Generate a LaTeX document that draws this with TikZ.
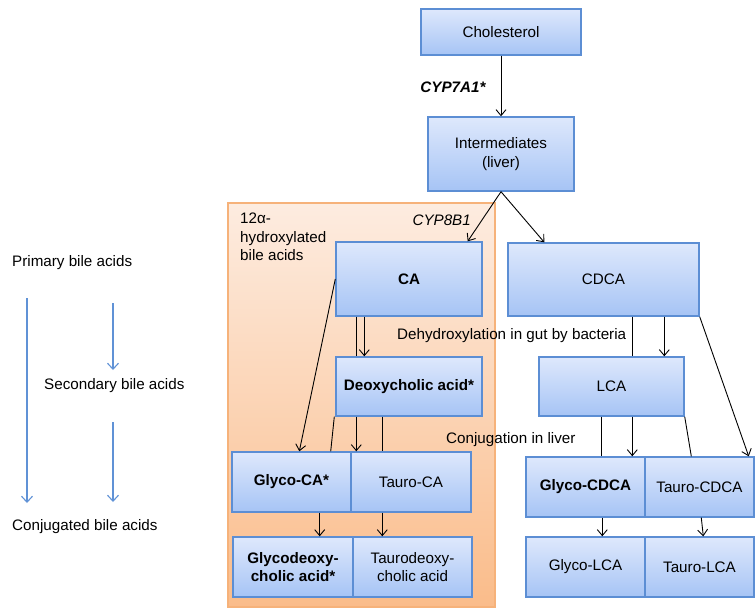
\documentclass[tikz,border=0pt]{standalone}
\usepackage{fontspec}
\setmainfont{Liberation Sans}
\usepackage{tikz}
\usetikzlibrary{arrows.meta,calc}
\definecolor{boxtop}{RGB}{222,232,252}
\definecolor{boxbot}{RGB}{166,196,245}
\definecolor{boxline}{RGB}{92,142,212}
\definecolor{regtop}{RGB}{253,236,224}
\definecolor{regbot}{RGB}{250,188,138}
\definecolor{regline}{RGB}{246,178,122}
\definecolor{flowblue}{RGB}{96,146,214}

\begin{document}
\begin{tikzpicture}[x=1pt, y=-1pt, font=\fontsize{15.2}{18.5}\selectfont,
    acid/.style 2 args={draw=boxline, line width=1.4pt, top color=boxtop, bottom color=boxbot,
      minimum width=#1, minimum height=#2, inner sep=0pt, align=center},
    conv/.style={line width=0.9pt, -{Straight Barb[length=6pt, width=10pt]}},
    link/.style={line width=0.9pt},
    class/.style={flowblue, line width=1.1pt, -{Straight Barb[length=6pt, width=11pt]}}]
    \useasboundingbox (0,0) rectangle (755,608);

    % 12alpha-hydroxylated region
    \draw[regline, line width=1.2pt, top color=regtop, bottom color=regbot] (228,203) rectangle (495,607);
    \node[anchor=west, align=left, inner sep=0pt] (hydr) at (240,237) {12α-\\hydroxylated\\bile acids};

    \node[acid={160pt}{46pt}] (chol) at (501,32) {Cholesterol};
    \node[acid={146pt}{74pt}] (inter) at (501,154) {Intermediates\\(liver)};
    \node[acid={146pt}{74pt}] (ca) at (409,279) {\bfseries CA};
    \node[acid={191pt}{73pt}] (cdca) at (603.5,279.5) {CDCA};
    \node[acid={146pt}{59pt}] (dca) at (409,386.5) {\bfseries Deoxycholic acid*};
    \node[acid={145pt}{59pt}] (lca) at (611.5,386.5) {LCA};
    \node[acid={119pt}{60pt}] (gca) at (291.5,482) {\bfseries Glyco-CA*};
    \node[acid={120pt}{60pt}] (tca) at (411,482) {Tauro-CA};
    \node[acid={120pt}{60pt}] (gdca) at (293,567) {\bfseries Glycodeoxy-\\\bfseries cholic acid*};
    \node[acid={119pt}{60pt}] (tdca) at (412.5,567) {Taurodeoxy-\\cholic acid};
    \node[acid={119pt}{60pt}] (gcdca) at (585.5,487) {\bfseries Glyco-CDCA};
    \node[acid={109pt}{60pt}] (tcdca) at (699.5,487) {Tauro-CDCA};
    \node[acid={119pt}{60pt}] (glca) at (585.5,567) {Glyco-LCA};
    \node[acid={109pt}{60pt}] (tlca) at (699.5,567) {Tauro-LCA};

    \node[anchor=east, font=\fontsize{15.2}{18}\selectfont\bfseries\itshape] (cyp7) at (489,87) {CYP7A1*};
    \node[anchor=west, font=\fontsize{15.2}{18}\selectfont\itshape] (cyp8) at (409,220) {CYP8B1};
    \node[anchor=west, inner sep=0pt] (dehyd) at (397,336) {Dehydroxylation in gut by bacteria};
    \node[anchor=west, inner sep=0pt] (conj) at (446,440) {Conjugation in liver};

    % synthesis in liver
    \draw[conv] (chol) -- (inter);
    \draw[conv] (inter.south) -- ([xshift=-15pt]ca.north east);
    \draw[conv] (inter.south) -- ([xshift=37pt]cdca.north west);

    % CA branch
    \draw[link] ([xshift=21pt]ca.south west) -- ([xshift=21pt]dca.north west);
    \draw[conv] ([xshift=29pt]ca.south west) -- ([xshift=29pt]dca.north west);
    \draw[conv] (ca.west) -- ([xshift=68pt]gca.north west);
    \draw[link] ([xshift=-1pt]dca.south west) -- ([xshift=-21pt]gca.north east);
    \draw[conv] ([xshift=21pt]dca.south west) -- ([xshift=6pt]tca.north west);
    \draw[link] ([xshift=47pt]dca.south west) -- ([xshift=32pt]tca.north west);
    \draw[conv] ([xshift=-32pt]gca.south east) -- ([xshift=-34pt]gdca.north east);
    \draw[conv] ([xshift=32pt]tca.south west) -- ([xshift=30pt]tdca.north west);

    % CDCA branch
    \draw[link] ([xshift=125pt]cdca.south west) -- ([xshift=94pt]lca.north west);
    \draw[conv] ([xshift=157pt]cdca.south west) -- ([xshift=126pt]lca.north west);
    \draw[conv] (cdca.south east) -- ([xshift=-6pt]tcdca.north east);
    \draw[link] ([xshift=63pt]lca.south west) -- ([xshift=76pt]gcdca.north west);
    \draw[conv] ([xshift=94pt]lca.south west) -- ([xshift=107pt]gcdca.north west);
    \draw[link] (lca.south east) -- ([xshift=47pt]tcdca.north west);
    \draw[conv] ([xshift=77pt]gcdca.south west) -- ([xshift=77pt]glca.north west);
    \draw[conv] ([xshift=57pt]tcdca.south west) -- ([xshift=59pt]tlca.north west);

    % legend
    \node[anchor=west, inner sep=0pt] (prim) at (12,263) {Primary bile acids};
    \node[anchor=west, inner sep=0pt] (sec) at (44,386) {Secondary bile acids};
    \node[anchor=west, inner sep=0pt] (conjd) at (12,527) {Conjugated bile acids};
    \draw[class] ([xshift=15pt, yshift=-35pt]prim.west) -- ([xshift=15pt, yshift=24pt]conjd.west);
    \draw[class] ([xshift=101pt, yshift=-40pt]prim.west) -- ([xshift=69pt, yshift=16pt]sec.west);
    \draw[class] ([xshift=69pt, yshift=-36pt]sec.west) -- ([xshift=101pt, yshift=25pt]conjd.west);
\end{tikzpicture}
\end{document}
